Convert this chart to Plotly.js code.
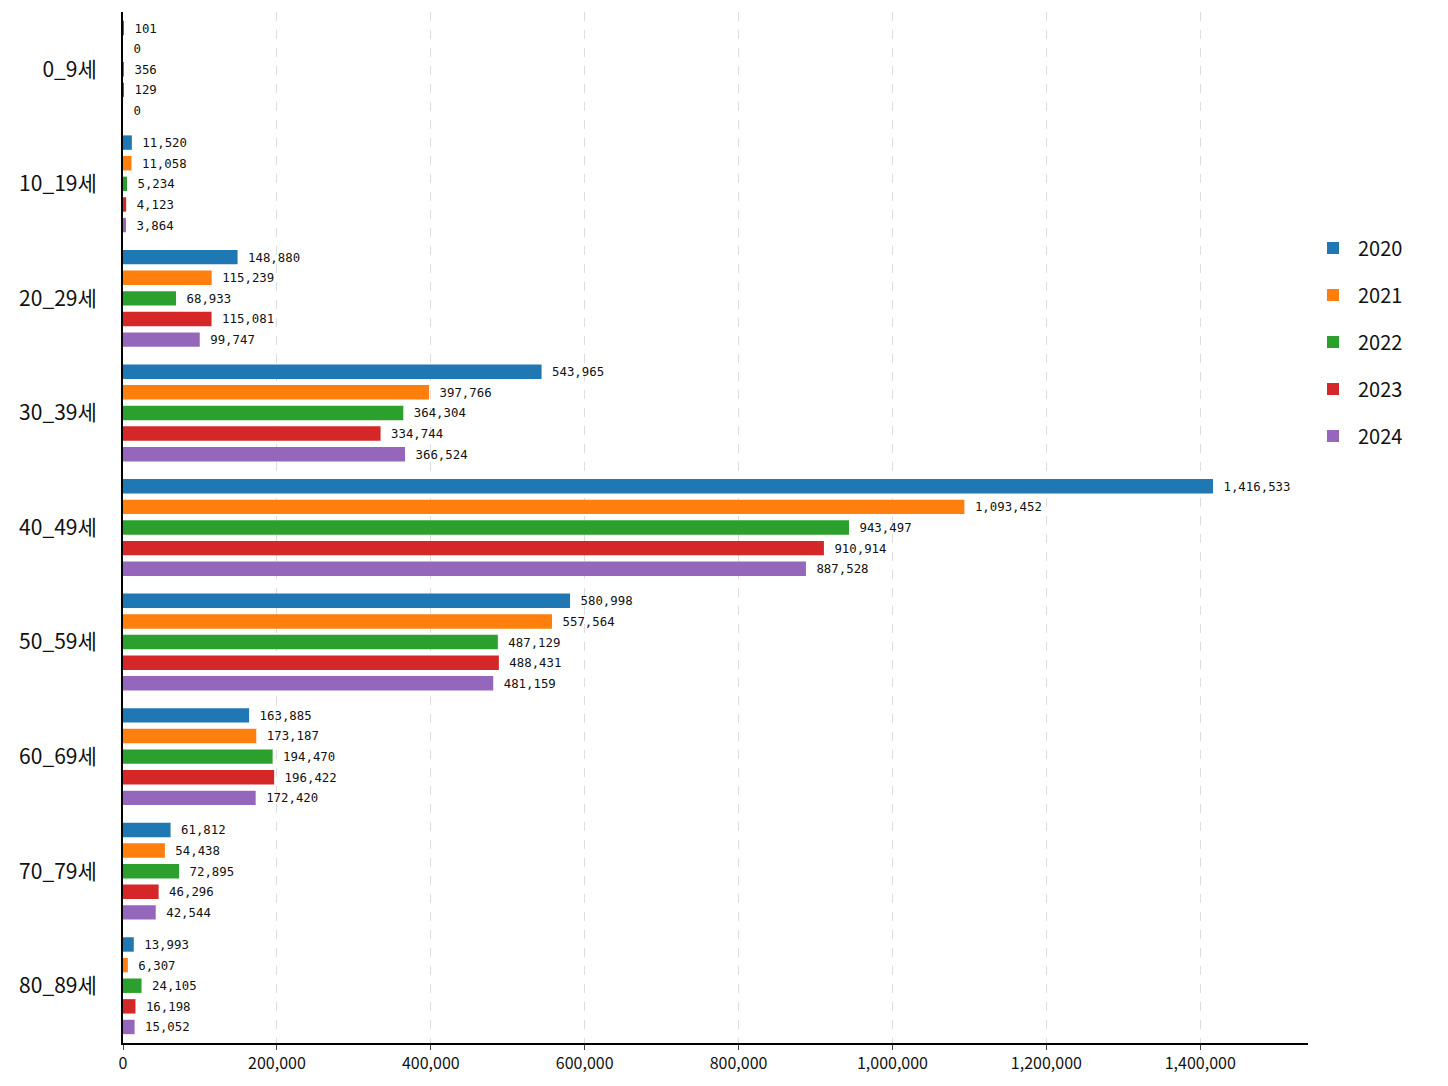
<!DOCTYPE html>
<html>
<head>
<meta charset="utf-8">
<script src="https://cdn.plot.ly/plotly-3.0.1.min.js"></script>
<style>body{margin:0;background:#fff}#plot{width:1448px;height:1086px}</style>
</head>
<body>
<div id="plot"></div>
<script>
const ages = ['0_9세', '10_19세', '20_29세', '30_39세', '40_49세', '50_59세', '60_69세', '70_79세', '80_89세'];
const years = ['2020', '2021', '2022', '2023', '2024'];
const v2020 = [101, 11520, 148880, 543965, 1416533, 580998, 163885, 61812, 13993];
const v2021 = [0, 11058, 115239, 397766, 1093452, 557564, 173187, 54438, 6307];
const v2022 = [356, 5234, 68933, 364304, 943497, 487129, 194470, 72895, 24105];
const v2023 = [129, 4123, 115081, 334744, 910914, 488431, 196422, 46296, 16198];
const v2024 = [0, 3864, 99747, 366524, 887528, 481159, 172420, 42544, 15052];
const colors = ['#1f77b4', '#ff7f0e', '#2ca02c', '#d62728', '#9467bd'];

const series = [v2020, v2021, v2022, v2023, v2024];
const data = series.map((vals, i) => ({
  type: 'bar',
  orientation: 'h',
  name: years[i],
  legendgroup: years[i],
  y: ages,
  x: vals,
  marker: { color: colors[i] },
  text: vals.map(v => ' ' + v.toLocaleString('en-US')),
  textposition: 'outside',
  cliponaxis: false,
  textfont: { size: 18, color: '#111', family: 'DejaVu Sans Mono, monospace' },
}));

const layout = {
  font: { family: 'Noto Sans CJK KR, sans-serif', color: '#111' },
  barmode: 'group',
  bargap: 0.1,
  bargroupgap: 0.3,
  showlegend: true,
  legend: { x: 1.0, y: 0.79, xanchor: 'left', font: { size: 20 }, tracegroupgap: 18, itemwidth: 40 },
  margin: { l: 123, r: 140, t: 12, b: 43 },
  plot_bgcolor: '#fff',
  paper_bgcolor: '#fff',
  xaxis: {
    range: [0, 1540000],
    tickvals: [0, 200000, 400000, 600000, 800000, 1000000, 1200000, 1400000],
    ticktext: ['0', '200,000', '400,000', '600,000', '800,000', '1,000,000', '1,200,000', '1,400,000'],
    tickfont: { size: 16 },
    showgrid: true, gridcolor: '#ddd', griddash: 'dash',
    showline: true, linecolor: '#000', linewidth: 2,
    ticks: 'outside', ticklen: 5, zeroline: false,
  },
  yaxis: {
    autorange: 'reversed',
    tickfont: { size: 21 },
    showline: true, linecolor: '#000', linewidth: 2,
    ticks: '', ticklabelstandoff: 20,
  },
};

Plotly.newPlot('plot', data, layout, { displayModeBar: false });
</script>
</body>
</html>
